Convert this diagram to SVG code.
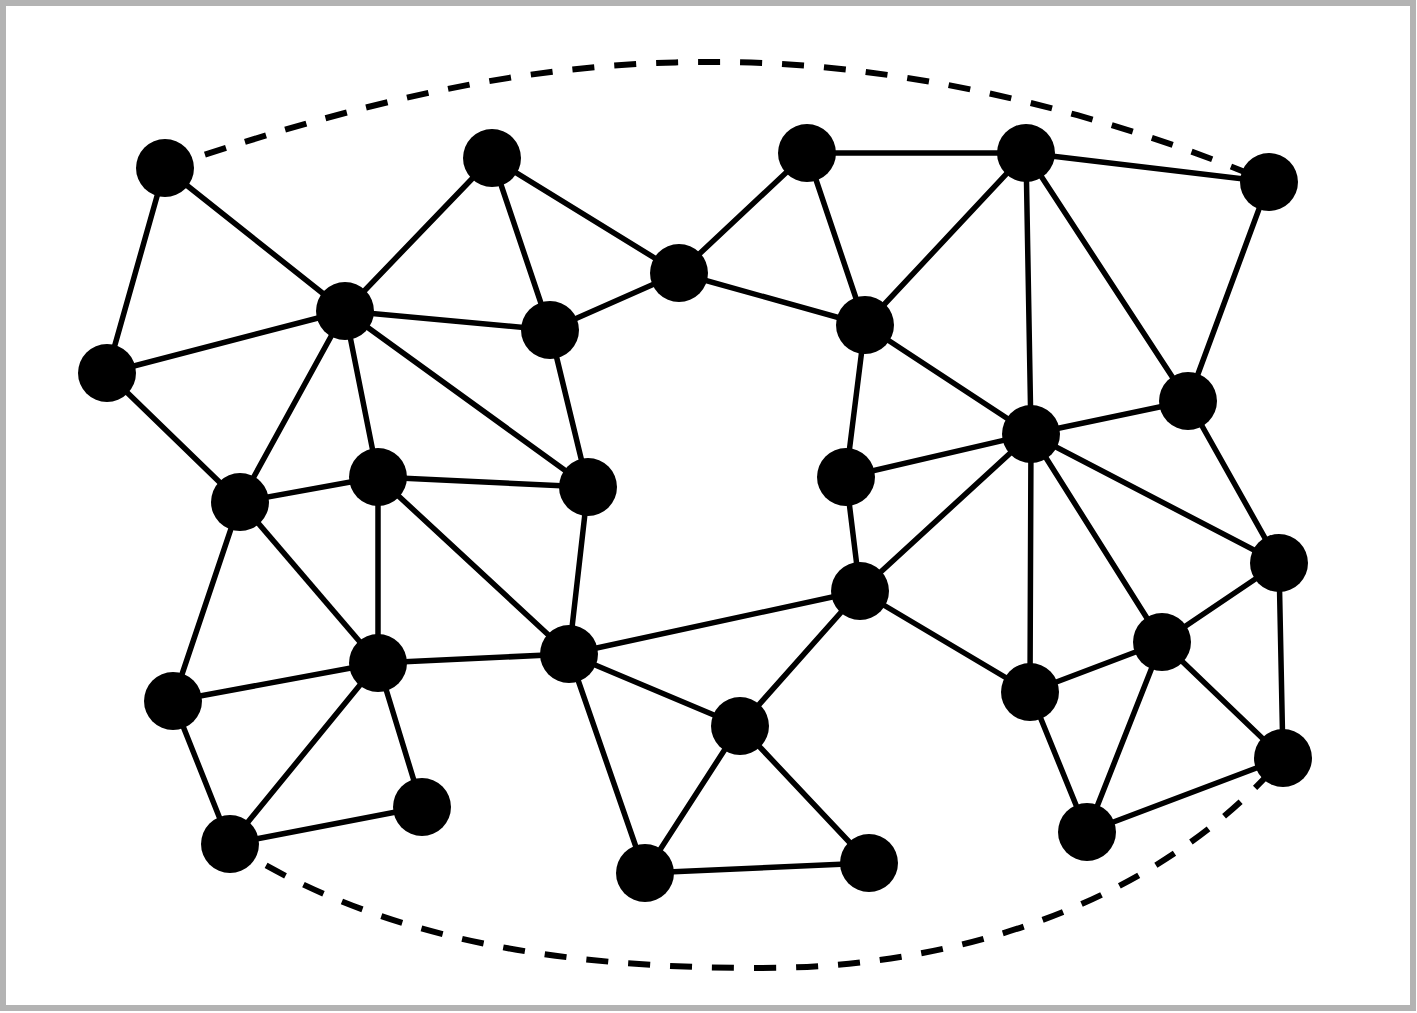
<svg xmlns="http://www.w3.org/2000/svg" width="1417" height="1013" viewBox="0 0 1417 1013">
<style>
.e{stroke:#000;stroke-width:5.5;fill:none;stroke-linecap:round}
.d{stroke:#000;stroke-width:6;fill:none;stroke-dasharray:22 20}
.n{fill:#000}
</style>
<rect x="0" y="0" width="1417" height="1013" fill="#fff"/>
<rect x="3" y="3" width="1410" height="1005" fill="none" stroke="#b3b3b3" stroke-width="6"/>
<g id="connectors">
<path class="d" d="M165,168 C400,88 560,60 730,62 C900,64 1100,110 1269,182"/>
<path class="d" d="M230,844 C380,940 560,968 760,968 C980,968 1170,890 1283,758"/>
<line class="e" x1="165" y1="168" x2="345" y2="311"/>
<line class="e" x1="165" y1="168" x2="107" y2="373"/>
<line class="e" x1="107" y1="373" x2="345" y2="311"/>
<line class="e" x1="107" y1="373" x2="240" y2="502"/>
<line class="e" x1="345" y1="311" x2="492" y2="158"/>
<line class="e" x1="345" y1="311" x2="550" y2="330"/>
<line class="e" x1="345" y1="311" x2="378" y2="477"/>
<line class="e" x1="345" y1="311" x2="588" y2="487"/>
<line class="e" x1="345" y1="311" x2="240" y2="502"/>
<line class="e" x1="492" y1="158" x2="550" y2="330"/>
<line class="e" x1="492" y1="158" x2="679" y2="273"/>
<line class="e" x1="550" y1="330" x2="679" y2="273"/>
<line class="e" x1="550" y1="330" x2="588" y2="487"/>
<line class="e" x1="679" y1="273" x2="807" y2="153"/>
<line class="e" x1="679" y1="273" x2="865" y2="325"/>
<line class="e" x1="807" y1="153" x2="865" y2="325"/>
<line class="e" x1="807" y1="153" x2="1026" y2="153"/>
<line class="e" x1="1026" y1="153" x2="1269" y2="182"/>
<line class="e" x1="1026" y1="153" x2="865" y2="325"/>
<line class="e" x1="1026" y1="153" x2="1031" y2="434"/>
<line class="e" x1="1026" y1="153" x2="1188" y2="401"/>
<line class="e" x1="1269" y1="182" x2="1188" y2="401"/>
<line class="e" x1="865" y1="325" x2="846" y2="477"/>
<line class="e" x1="865" y1="325" x2="1031" y2="434"/>
<line class="e" x1="1031" y1="434" x2="1188" y2="401"/>
<line class="e" x1="1031" y1="434" x2="846" y2="477"/>
<line class="e" x1="1031" y1="434" x2="860" y2="591"/>
<line class="e" x1="1031" y1="434" x2="1279" y2="563"/>
<line class="e" x1="1031" y1="434" x2="1030" y2="692"/>
<line class="e" x1="1031" y1="434" x2="1162" y2="642"/>
<line class="e" x1="1188" y1="401" x2="1279" y2="563"/>
<line class="e" x1="1279" y1="563" x2="1162" y2="642"/>
<line class="e" x1="1279" y1="563" x2="1283" y2="758"/>
<line class="e" x1="1162" y1="642" x2="1030" y2="692"/>
<line class="e" x1="1162" y1="642" x2="1283" y2="758"/>
<line class="e" x1="1162" y1="642" x2="1087" y2="832"/>
<line class="e" x1="1030" y1="692" x2="1087" y2="832"/>
<line class="e" x1="1087" y1="832" x2="1283" y2="758"/>
<line class="e" x1="860" y1="591" x2="846" y2="477"/>
<line class="e" x1="860" y1="591" x2="569" y2="654"/>
<line class="e" x1="860" y1="591" x2="1030" y2="692"/>
<line class="e" x1="860" y1="591" x2="740" y2="726"/>
<line class="e" x1="240" y1="502" x2="378" y2="477"/>
<line class="e" x1="240" y1="502" x2="173" y2="701"/>
<line class="e" x1="240" y1="502" x2="378" y2="663"/>
<line class="e" x1="378" y1="477" x2="588" y2="487"/>
<line class="e" x1="378" y1="477" x2="378" y2="663"/>
<line class="e" x1="378" y1="477" x2="569" y2="654"/>
<line class="e" x1="588" y1="487" x2="569" y2="654"/>
<line class="e" x1="378" y1="663" x2="569" y2="654"/>
<line class="e" x1="378" y1="663" x2="173" y2="701"/>
<line class="e" x1="378" y1="663" x2="230" y2="844"/>
<line class="e" x1="378" y1="663" x2="422" y2="807"/>
<line class="e" x1="173" y1="701" x2="230" y2="844"/>
<line class="e" x1="230" y1="844" x2="422" y2="807"/>
<line class="e" x1="569" y1="654" x2="740" y2="726"/>
<line class="e" x1="569" y1="654" x2="645" y2="873"/>
<line class="e" x1="740" y1="726" x2="645" y2="873"/>
<line class="e" x1="740" y1="726" x2="869" y2="863"/>
<line class="e" x1="645" y1="873" x2="869" y2="863"/>
</g>
<g id="n1"><circle class="n" cx="165" cy="168" r="29"/></g>
<g id="n2"><circle class="n" cx="492" cy="158" r="29"/></g>
<g id="n3"><circle class="n" cx="807" cy="153" r="29"/></g>
<g id="n4"><circle class="n" cx="1026" cy="153" r="29"/></g>
<g id="n5"><circle class="n" cx="1269" cy="182" r="29"/></g>
<g id="n6"><circle class="n" cx="345" cy="311" r="29"/></g>
<g id="n7"><circle class="n" cx="550" cy="330" r="29"/></g>
<g id="n8"><circle class="n" cx="679" cy="273" r="29"/></g>
<g id="n9"><circle class="n" cx="865" cy="325" r="29"/></g>
<g id="n10"><circle class="n" cx="107" cy="373" r="29"/></g>
<g id="n11"><circle class="n" cx="1188" cy="401" r="29"/></g>
<g id="n12"><circle class="n" cx="1031" cy="434" r="29"/></g>
<g id="n13"><circle class="n" cx="240" cy="502" r="29"/></g>
<g id="n14"><circle class="n" cx="378" cy="477" r="29"/></g>
<g id="n15"><circle class="n" cx="588" cy="487" r="29"/></g>
<g id="n16"><circle class="n" cx="846" cy="477" r="29"/></g>
<g id="n17"><circle class="n" cx="1279" cy="563" r="29"/></g>
<g id="n18"><circle class="n" cx="860" cy="591" r="29"/></g>
<g id="n19"><circle class="n" cx="1162" cy="642" r="29"/></g>
<g id="n20"><circle class="n" cx="378" cy="663" r="29"/></g>
<g id="n21"><circle class="n" cx="569" cy="654" r="29"/></g>
<g id="n22"><circle class="n" cx="173" cy="701" r="29"/></g>
<g id="n23"><circle class="n" cx="1030" cy="692" r="29"/></g>
<g id="n24"><circle class="n" cx="740" cy="726" r="29"/></g>
<g id="n25"><circle class="n" cx="1283" cy="758" r="29"/></g>
<g id="n26"><circle class="n" cx="422" cy="807" r="29"/></g>
<g id="n27"><circle class="n" cx="230" cy="844" r="29"/></g>
<g id="n28"><circle class="n" cx="1087" cy="832" r="29"/></g>
<g id="n29"><circle class="n" cx="645" cy="873" r="29"/></g>
<g id="n30"><circle class="n" cx="869" cy="863" r="29"/></g>
</svg>
